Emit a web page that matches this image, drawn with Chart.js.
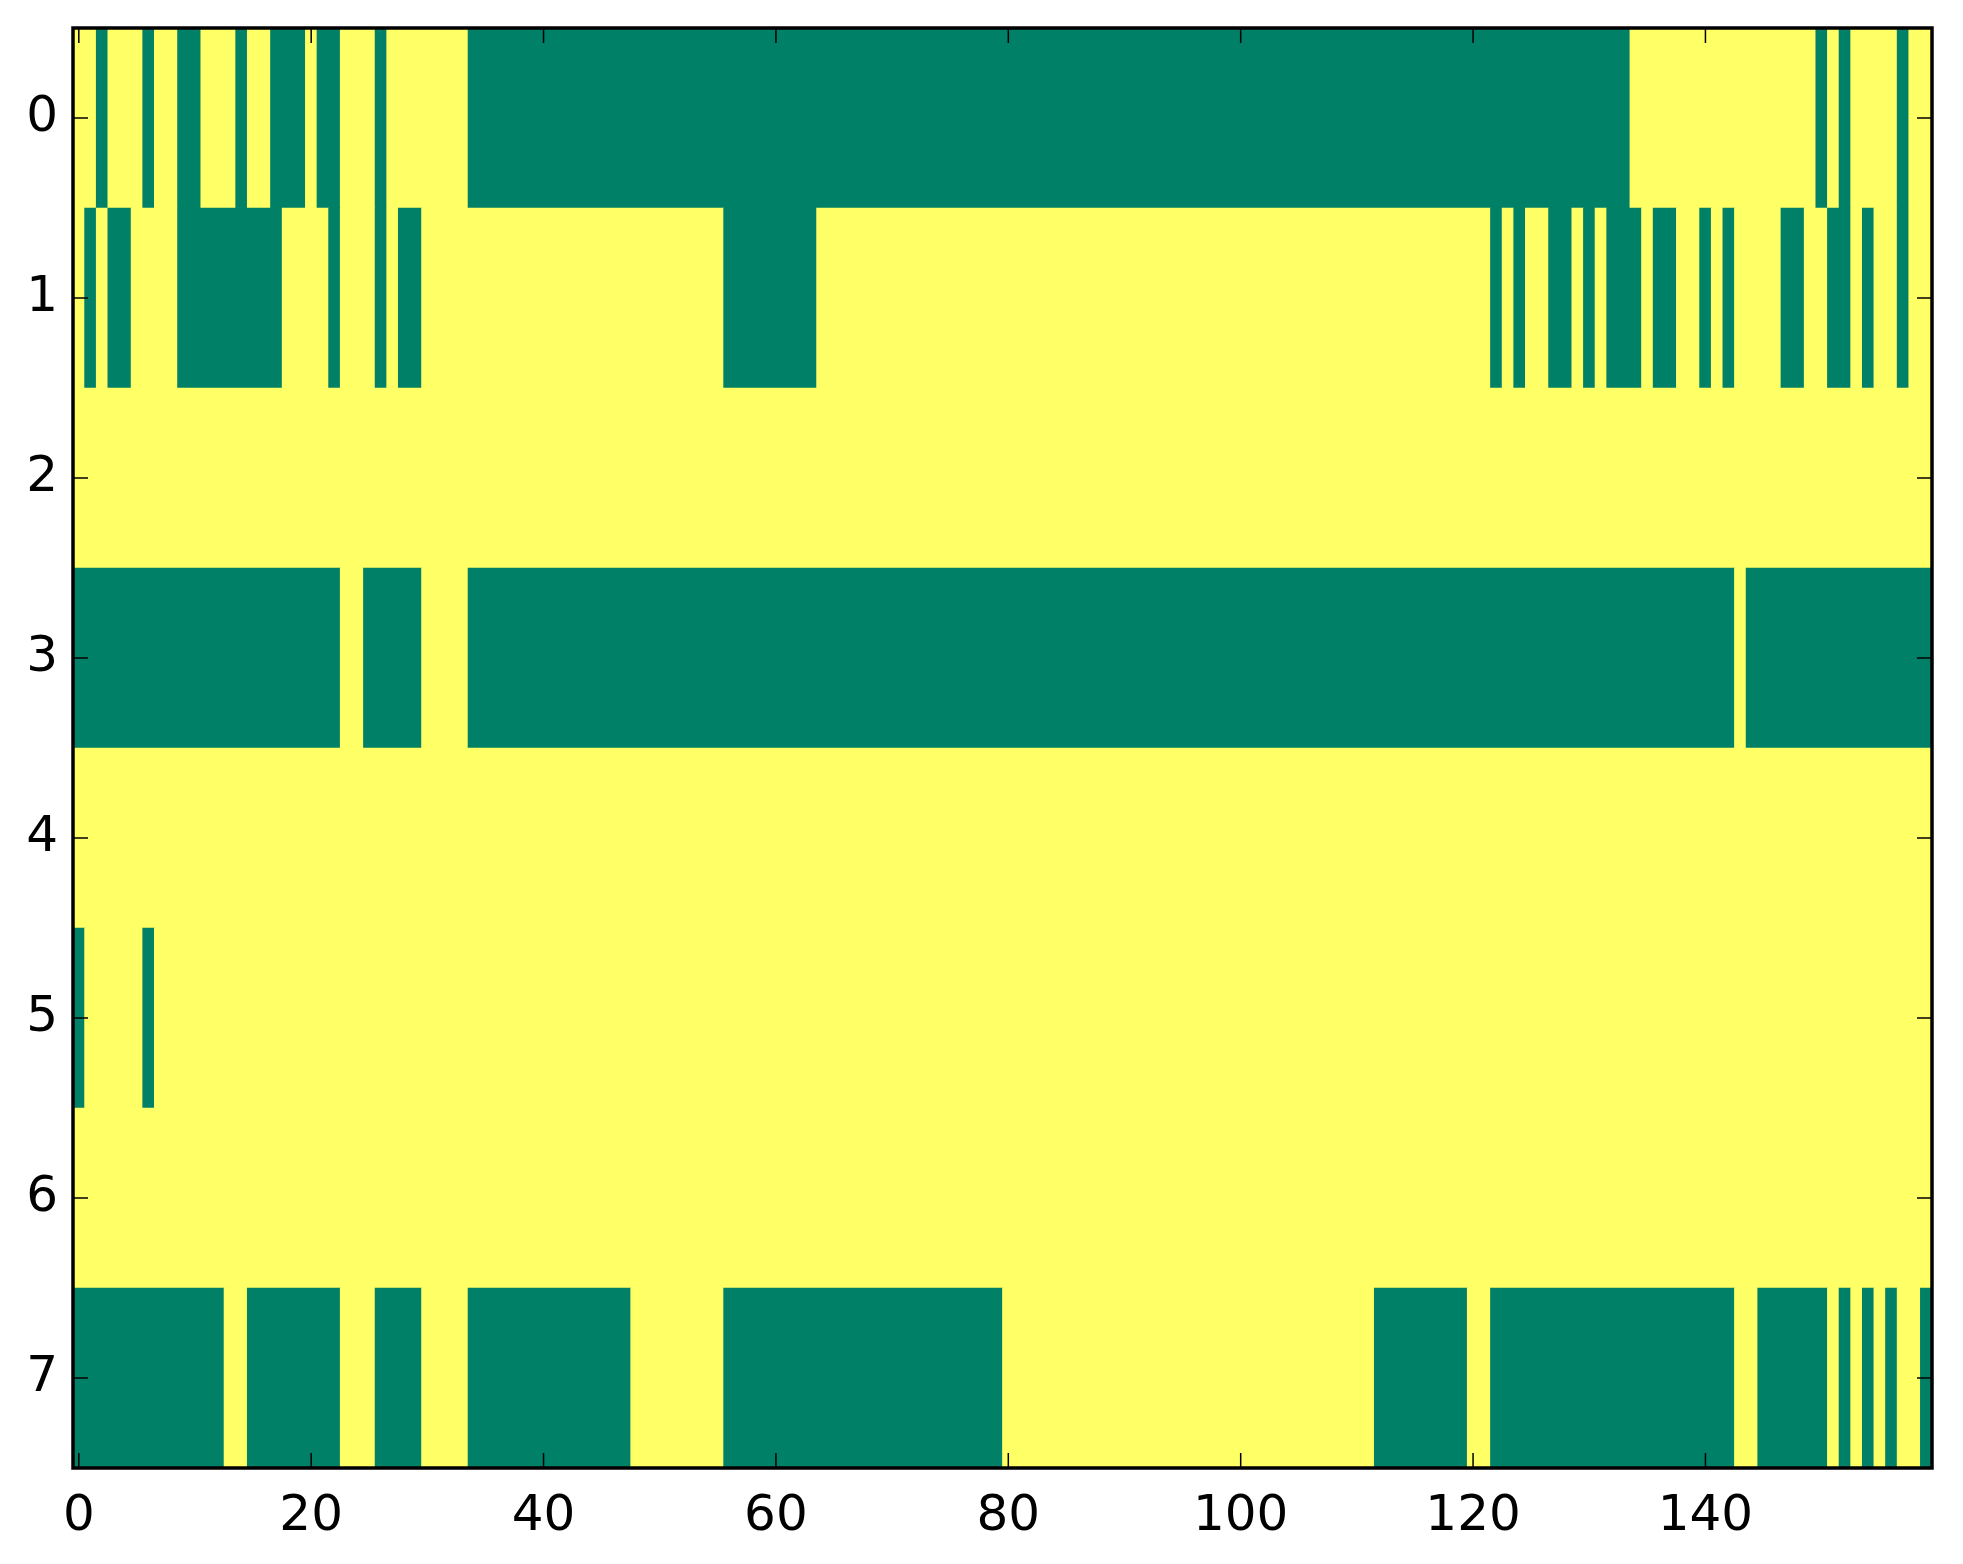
<!DOCTYPE html>
<html>
<head>
<meta charset="utf-8">
<title>Binary matrix</title>
<script src="https://cdn.jsdelivr.net/npm/chart.js@4.4.1/dist/chart.umd.min.js"></script>
<style>
  html, body { margin: 0; padding: 0; background: #fff; }
  #wrap { width: 1963px; height: 1564px; }
</style>
</head>
<body>
<div id="wrap"><canvas id="c" width="1963" height="1564"></canvas></div>
<script>
// matrix is 8 rows x 160 columns, 1 = green cell; runs of green as [first, last] column
const nCols = 160;
const rowLabels = ["0", "1", "2", "3", "4", "5", "6", "7"];
const xTicks = [0, 20, 40, 60, 80, 100, 120, 140];

const row0 = [[2, 2], [6, 6], [9, 10], [14, 14], [17, 19], [21, 22], [26, 26], [34, 133], [150, 150], [152, 152], [157, 157]];
const row1 = [[1, 1], [3, 4], [9, 17], [22, 22], [26, 26], [28, 29], [56, 63], [122, 122], [124, 124], [127, 128], [130, 130], [132, 134], [136, 137], [140, 140], [142, 142], [147, 148], [151, 152], [154, 154], [157, 157]];
const row2 = [];
const row3 = [[0, 22], [25, 29], [34, 142], [144, 159]];
const row4 = [];
const row5 = [[0, 0], [6, 6]];
const row6 = [];
const row7 = [[0, 12], [15, 22], [26, 29], [34, 47], [56, 79], [112, 119], [122, 142], [145, 150], [152, 152], [154, 154], [156, 156], [159, 159]];

const greenRuns = [row0, row1, row2, row3, row4, row5, row6, row7];

const GREEN = "#008066";
const YELLOW = "#ffff66";

// expand to cells, then merge equal neighbours into bars
const matrix = greenRuns.map(runs => {
  const r = new Array(nCols).fill(0);
  runs.forEach(([a, b]) => { for (let i = a; i <= b; i++) r[i] = 1; });
  return r;
});

const bars = [];
matrix.forEach((r, ri) => {
  let start = 0;
  for (let i = 1; i <= nCols; i++) {
    if (i === nCols || r[i] !== r[start]) {
      bars.push({ y: rowLabels[ri], x: [start - 0.5, i - 0.5], v: r[start] });
      start = i;
    }
  }
});

const frame = {
  id: "frame",
  beforeDatasetsDraw(chart) {
    const { ctx, chartArea: a } = chart;
    ctx.save();
    ctx.fillStyle = YELLOW;
    ctx.fillRect(a.left, a.top, a.right - a.left, a.bottom - a.top);
    ctx.restore();
  },
  afterDraw(chart) {
    const { ctx, chartArea: a, scales } = chart;
    const len = 15;
    ctx.save();
    ctx.strokeStyle = "#000";
    ctx.lineWidth = 1.5;
    ctx.beginPath();
    scales.x.ticks.forEach(t => {
      const px = scales.x.getPixelForValue(t.value);
      ctx.moveTo(px, a.bottom); ctx.lineTo(px, a.bottom - len);
      ctx.moveTo(px, a.top); ctx.lineTo(px, a.top + len);
    });
    scales.y.ticks.forEach((t, i) => {
      const py = scales.y.getPixelForTick(i);
      ctx.moveTo(a.left, py); ctx.lineTo(a.left + len, py);
      ctx.moveTo(a.right, py); ctx.lineTo(a.right - len, py);
    });
    ctx.stroke();
    ctx.lineWidth = 3.5;
    ctx.strokeRect(a.left, a.top, a.right - a.left, a.bottom - a.top);
    ctx.restore();
  }
};

new Chart(document.getElementById("c"), {
  type: "bar",
  data: {
    labels: rowLabels,
    datasets: [{
      data: bars,
      backgroundColor: c => (c.raw && c.raw.v ? GREEN : YELLOW),
      borderWidth: 0,
      categoryPercentage: 1.0,
      barPercentage: 1.0
    }]
  },
  options: {
    indexAxis: "y",
    responsive: false,
    devicePixelRatio: 1,
    animation: false,
    layout: { padding: { top: 28, right: 31, left: 0, bottom: 0 } },
    plugins: { legend: { display: false }, tooltip: { enabled: false } },
    scales: {
      x: {
        type: "linear",
        min: -0.5,
        max: 159.5,
        afterBuildTicks: s => { s.ticks = xTicks.map(v => ({ value: v })); },
        afterFit: s => { s.height = 96; s.paddingLeft = 0; s.paddingRight = 0; },
        grid: { display: false, drawTicks: false },
        border: { display: false },
        ticks: { color: "#000", padding: 19, font: { family: "DejaVu Sans", size: 50 } }
      },
      y: {
        type: "category",
        afterFit: s => { s.width = 73; s.paddingTop = 0; s.paddingBottom = 0; },
        grid: { display: false, drawTicks: false },
        border: { display: false },
        ticks: { color: "#000", padding: 15, font: { family: "DejaVu Sans", size: 50 } }
      }
    }
  },
  plugins: [frame]
});
</script>
</body>
</html>
